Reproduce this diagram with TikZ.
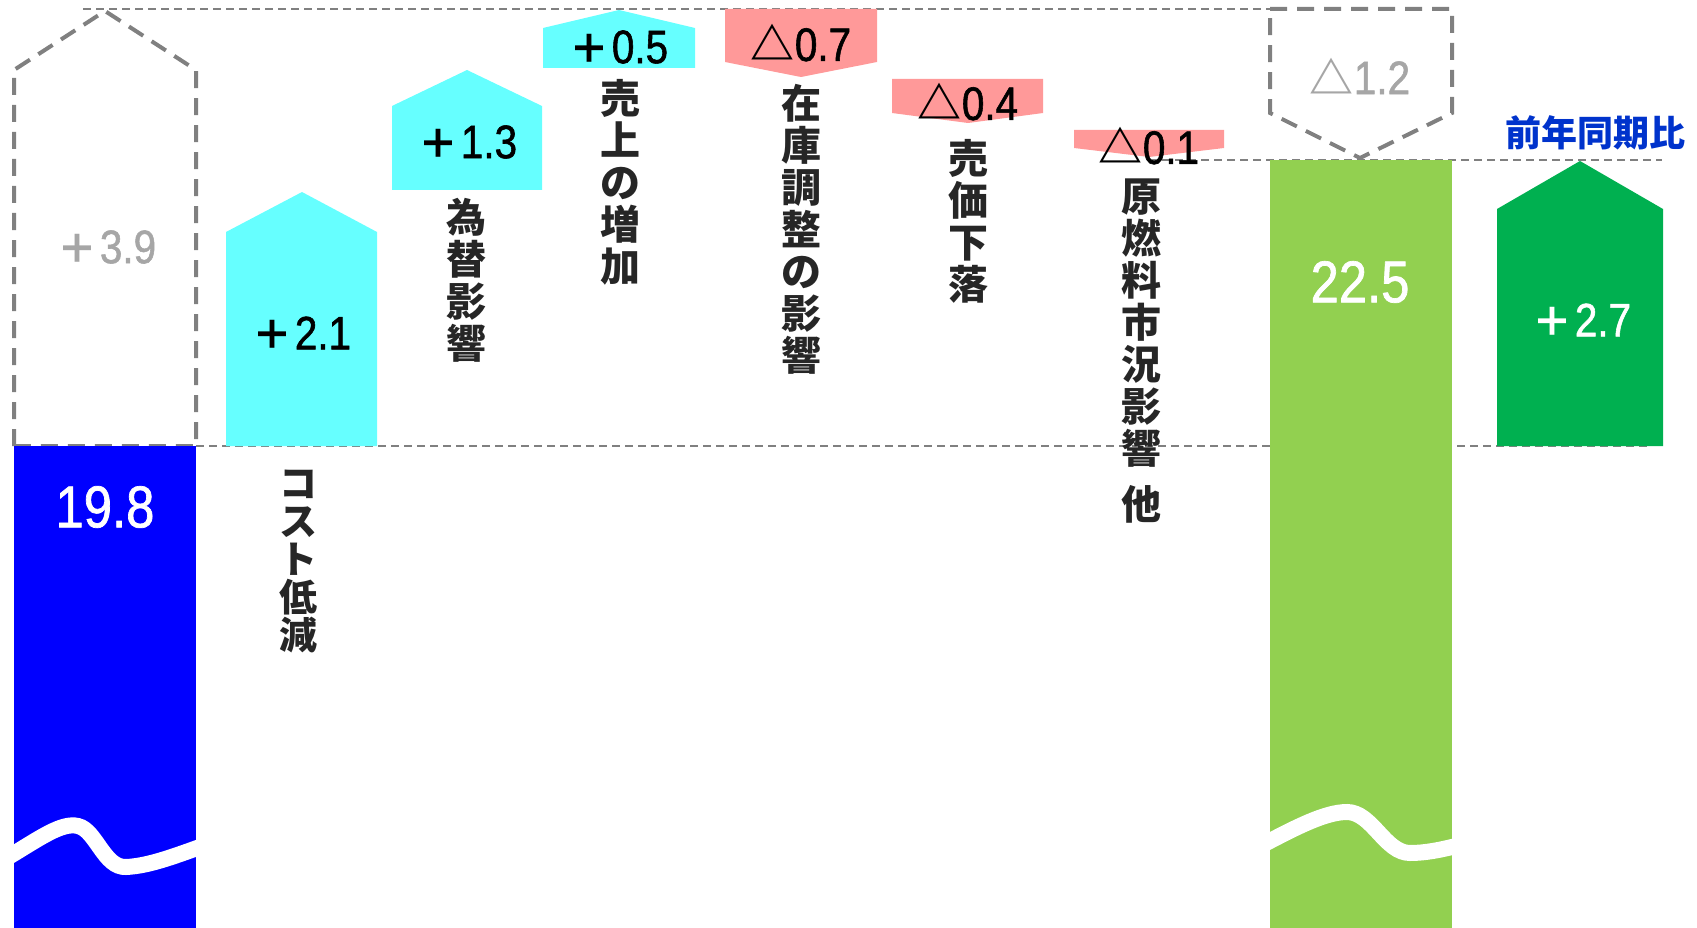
\documentclass[tikz,border=0pt]{standalone}
\usepackage{fontspec}
\setmainfont{Liberation Sans}
\newfontfamily\cjk{Noto Sans CJK JP}
\newfontfamily\numfont{Liberation Sans}[FakeStretch=0.86, FakeBold=1.2]
\definecolor{upcyan}{RGB}{102, 255, 255}
\definecolor{downpink}{RGB}{255, 153, 153}
\definecolor{lastblue}{RGB}{0, 0, 255}
\definecolor{nowgreen}{RGB}{146, 208, 80}
\definecolor{diffgreen}{RGB}{0, 176, 80}
\definecolor{guidegray}{RGB}{128, 128, 128}
\definecolor{ghostgray}{RGB}{166, 166, 166}
\definecolor{labelink}{RGB}{38, 38, 38}
\definecolor{yoyblue}{RGB}{0, 51, 204}
\newcommand{\upmark}{{\cjk\bfseries\fontsize{40}{40}\selectfont ＋}\kern2pt}
\newcommand{\downmark}{{\cjk\bfseries\fontsize{44}{44}\selectfont △}}

\begin{document}
\begin{tikzpicture}[x=1pt, y=-1pt,
  guide/.style={guidegray, line width=2pt, dash pattern=on 8pt off 5pt},
  ghost/.style={guidegray, line width=4pt, dash pattern=on 17pt off 10pt},
  wave/.style={white, line width=16pt},
  num/.style={font=\numfont\fontsize{47}{47}\selectfont, inner sep=0pt},
  bignum/.style={font=\numfont\fontsize{59}{59}\selectfont, inner sep=0pt, text=white},
  vlabel/.style={font=\cjk\bfseries\fontsize{40}{42}\selectfont, text=labelink, align=center, inner sep=0pt, anchor=north}]
  \useasboundingbox (0,0) rectangle (1697,928);

  \draw[guide] (83,9) -- (1270,9);
  \draw[guide] (1149,160) -- (1662,160);
  \draw[guide] (196,446) -- (1650,446);

  \draw[ghost] (14,446) -- (14,70) -- (105,11) -- (196,70) -- (196,446) -- cycle;
  \fill[lastblue] (14,446) rectangle (196,928);
  \begin{scope}
    \clip (14,446) rectangle (196,928);
    \draw[wave] (10,856) .. controls (40,838) and (62,822) .. (78,826) .. controls (96,830) and (104,868) .. (126,867) .. controls (148,866) and (172,857) .. (200,847);
  \end{scope}

  \fill[upcyan] (226,446) -- (226,232) -- (302,192) -- (377,232) -- (377,446) -- cycle;
  \fill[upcyan] (392,190) -- (392,106) -- (467,70) -- (542,106) -- (542,190) -- cycle;
  \fill[upcyan] (543,68) -- (543,28) -- (619,10) -- (695,28) -- (695,68) -- cycle;
  \fill[downpink] (725,9) -- (877,9) -- (877,62) -- (801,77) -- (725,62) -- cycle;
  \fill[downpink] (892,79) -- (1043,79) -- (1043,113) -- (968,123) -- (892,113) -- cycle;
  \fill[downpink] (1074,130) -- (1224,130) -- (1224,148) -- (1149,157) -- (1074,148) -- cycle;

  \draw[ghost] (1270,9) -- (1452,9) -- (1452,113) -- (1360,158) -- (1270,113) -- cycle;
  \fill[nowgreen] (1270,160) rectangle (1452,928);
  \begin{scope}
    \clip (1270,160) rectangle (1452,928);
    \draw[wave] (1266,843) .. controls (1295,828) and (1325,812) .. (1347,812) .. controls (1372,812) and (1385,853) .. (1410,853) .. controls (1425,853) and (1440,850) .. (1456,846);
  \end{scope}
  \fill[diffgreen] (1497,446) -- (1497,209) -- (1580,161) -- (1663,209) -- (1663,446) -- cycle;

  \node[num, text=ghostgray] (prevup) at (107,247) {\upmark 3.9};
  \node[bignum] (base) at (105,507) {19.8};
  \node[num] (cost) at (302,333) {\upmark 2.1};
  \node[num] (fx) at (468,142) {\upmark 1.3};
  \node[num] (sales) at (619,47) {\upmark 0.5};
  \node[num] (stock) at (801,43) {\downmark 0.7};
  \node[num] (price) at (968,102) {\downmark 0.4};
  \node[num] (fuel) at (1149,146) {\downmark 0.1};
  \node[num, text=ghostgray] (prevdown) at (1360,76) {\downmark 1.2};
  \node[bignum] (total) at (1360,282) {22.5};
  \node[num, text=white] (yoy) at (1582,320) {\upmark 2.7};

  \node[vlabel, font=\cjk\bfseries\fontsize{38}{38}\selectfont] (costtxt) at (298,470) {コ\\ス\\ト\\低\\減};
  \node[vlabel] (fxtxt) at (466,198) {為\\替\\影\\響};
  \node[vlabel] (salestxt) at (620,79) {売\\上\\の\\増\\加};
  \node[vlabel] (stocktxt) at (801,84) {在\\庫\\調\\整\\の\\影\\響};
  \node[vlabel] (pricetxt) at (968,139) {売\\価\\下\\落};
  \node[vlabel] (fueltxt) at (1141,179) {原\\燃\\料\\市\\況\\影\\響\\[14pt]他};
  \node[font=\cjk\bfseries\fontsize{36}{36}\selectfont, text=yoyblue, inner sep=0pt] (yoytxt) at (1595,133) {前年同期比};
\end{tikzpicture}
\end{document}
